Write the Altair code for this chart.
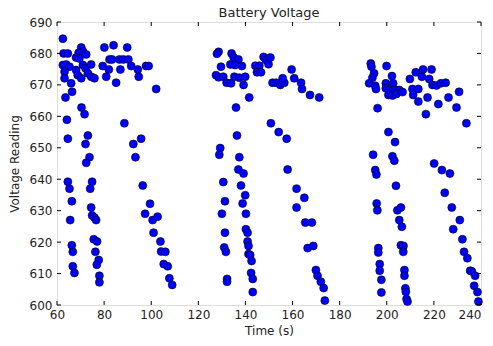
import altair as alt
import pandas as pd

# Run 1 (time s, voltage reading)
run1_t = [62.5,62.8,64.6,70.3,71,69.2,72.4,68.1,69.5,62.5,63.9,65.3,63.2,68.1,71,72.1,74.5,68.8,70.3,73.1,74.5,75.9,63.2,66,63.6,66.4,80.1,84,89.8,82.3,83.4,86.5,88.2,90.3,79.4,82,86.9,91.5,94.3,97.8,98.9,80.9,94.7,85.1,102.1,70.4,71.7,64.2,88.6,64.6,73.1,72.1,95.7,92.4,73.8,93.3,72.4,
          64.6,65.3,74.9,74.1,66.3,74.5,65.6,74.9,75.9,76.6,66.3,66.7,75.6,77,76.3,77.7,76.9,66.7,67.4,78,78,96.4,99.5,97.4,100.6,102.7,101,103.9,104.2,106,105.3,107,107.7,108.9]
run1_v = [684.7,680,680,681.9,680.7,680.2,679.7,678.7,678.4,676.3,676.5,675.8,674.2,674.7,676.3,675.3,676.5,673.1,672.1,673.7,672.6,672.1,672.1,670.5,666,667.8,681.9,682.6,681.9,678.1,678.1,678.1,678.1,678.1,676,674.9,674.9,676,674.9,676,676,672.6,672.6,670.7,668.7,662.8,660.7,658.9,657.8,652.9,653.9,651.2,652.9,651.2,647,647,645.2,
          639.2,637,639.2,637,633,631,627,628.5,627.8,627,619,616.9,620.9,620.2,616.9,614.3,612.8,612.3,610.2,609.3,607.2,638,632.2,629,627,628.1,623,620.2,617,616.9,613,612.3,608.5,606.4]

# Run 2
run2_t = [128.6,127.9,134.1,135,137,133.6,135.6,138.5,129.6,127.5,128.6,130.6,132,133.9,135.3,137.4,139.9,139.2,141.6,136,144.2,145.9,147.7,148.7,149.8,150.6,144.9,146.6,151.5,153,154.8,156.5,155.8,159.6,160.7,150.8,154.1,157.5,136.4,129.3,128.9,137.4,163.6,164,167.4,171.3,
          137,139.2,130.6,138.1,139.9,138.8,131.3,130,140.2,131.3,140.2,140.9,131,131.7,140.9,141.3,141.3,142,142.6,132.2,132.2,142.4,143.1,143.1,157.9,161.7,161.7,165,165.4,168.2,166.4,168.8,169.9,170.6,172,173.2,173.7]
run2_v = [680.5,679.9,680,678.7,678.1,676.5,676.3,676,675.8,673.1,672.4,672.6,670.7,670.5,672.6,672.3,672.6,670,666,662.8,676.1,676.1,678.9,677.9,676.6,678.7,674,674,670.7,670.7,670,670.7,672.1,674.9,672.1,657.8,655,652.9,653.9,649.9,647.8,647,670.7,668.7,666.8,666,
          643.1,641.8,639.1,638,634.9,632.3,633,629,629,623,624.1,623,618.3,616.9,620.2,618.8,616.2,615.9,614,608.3,607.4,610.2,608.3,604.1,643.1,637,631,634.1,626.2,626.2,618.1,618.8,611.1,609.3,607.4,605.4,601.4]

# Run 3
run3_t = [193.2,193.5,194.6,193.9,192.5,195.1,195.4,199.9,202.2,199.6,202.7,199.6,201,203.6,205.3,200.7,202.4,204.1,206.7,209.8,212.3,210.9,211.2,213.4,196.1,200.7,203.5,194.2,202.4,203.2,215.4,219,214.9,218,219.4,221.1,223,225,213.4,217.3,221.9,226.2,230.7,229.6,216.6,233.8,
          195.1,195.6,195.7,196,196.4,196.4,197,197,197.7,197.7,203.9,204.5,206,205.3,206.4,206,207.1,207,207.5,207.5,207.9,208.1,208.4,208.8,220.1,223.4,226.8,224.6,227.6,231,228.2,232.1,232.8,234.2,235.4,236.1,237.5,237.1,238.5,238.9]
run3_v = [676.8,675.8,673.7,672.3,670.5,669.7,668.7,676,672.8,670.5,670.5,668.9,668.4,668.4,668.4,666.8,666.6,667.1,667.7,671.9,674,668.7,666.8,664.7,662.6,655,651.8,647.8,647.3,645.9,674.9,674.9,672.6,671.9,670,669.8,670.5,670.7,668.7,666,663.9,666,667.8,662.8,660.7,657.8,
          642.9,641.5,632.3,630.1,618.1,616.7,613,610.9,608,604,637.9,630.1,631,627,624.9,619,618.8,616.9,611.1,609.3,605.3,604.2,601.9,601.1,645,642.9,641.8,635.7,631,627,624.1,620.9,616.9,614.9,610.9,610.7,609.3,606.1,604.1,601.1]

x_ticks = [60, 80, 100, 120, 140, 160, 180, 200, 220, 240]
y_ticks = [600, 610, 620, 630, 640, 650, 660, 670, 680, 690]

W, H = 424, 283
FONT = "DejaVu Sans"
TXT = "#222222"

df = pd.DataFrame({"t": run1_t + run2_t + run3_t, "v": run1_v + run2_v + run3_v})
xt = pd.DataFrame({"t": x_ticks})
yt = pd.DataFrame({"v": y_ticks})

xscale = alt.Scale(domain=[60, 240], nice=False, zero=False)
yscale = alt.Scale(domain=[600, 690], nice=False, zero=False)

xaxis = alt.Axis(values=x_ticks, grid=False, ticks=False, domain=False,
                 labelPadding=4, labelFontSize=12, labelFont=FONT,
                 labelColor=TXT, titleFont=FONT, titleFontSize=12,
                 titleFontWeight="normal", titleColor=TXT,
                 titlePadding=5, labelFlush=False, labelOverlap=False,
                 labelAlign=alt.ExprRef(expr="datum.value >= 240 ? 'right' : 'center'"))
yaxis = alt.Axis(values=y_ticks, grid=False, ticks=False, domain=False,
                 labelPadding=5, labelFontSize=12, labelFont=FONT,
                 labelColor=TXT, titleFont=FONT, titleFontSize=12,
                 titleFontWeight="normal", titleColor=TXT,
                 titlePadding=8, labelFlush=False, labelOverlap=False)

X = alt.X("t:Q", scale=xscale, title="Time (s)", axis=xaxis)
Y = alt.Y("v:Q", scale=yscale, title="Voltage Reading", axis=yaxis)

points = alt.Chart(df).mark_point(
    filled=True, shape="circle", size=64, fill="#0000ff", stroke="black",
    strokeWidth=0.6, opacity=1, fillOpacity=1
).encode(x=X, y=Y)

tick_len = 4
xb = alt.Chart(xt).mark_rule(color="black", strokeWidth=1).encode(
    x=X, y=alt.value(H), y2=alt.value(H - tick_len))
xtop = alt.Chart(xt).mark_rule(color="black", strokeWidth=1).encode(
    x=X, y=alt.value(0), y2=alt.value(tick_len))
yl = alt.Chart(yt).mark_rule(color="black", strokeWidth=1).encode(
    y=Y, x=alt.value(0), x2=alt.value(tick_len))
yr = alt.Chart(yt).mark_rule(color="black", strokeWidth=1).encode(
    y=Y, x=alt.value(W), x2=alt.value(W - tick_len))

chart = alt.layer(points, xb, xtop, yl, yr).properties(
    width=W, height=H,
    title=alt.TitleParams("Battery Voltage", font=FONT, fontSize=13,
                          fontWeight="normal", color=TXT, offset=-4),
    autosize=alt.AutoSizeParams(type="none"),
    padding={"left": 49, "top": 14, "right": 4, "bottom": 33},
).configure_view(stroke="black", strokeWidth=1).configure(background="white")

chart.save("out.html", embed_options={"renderer": "svg", "actions": False})
